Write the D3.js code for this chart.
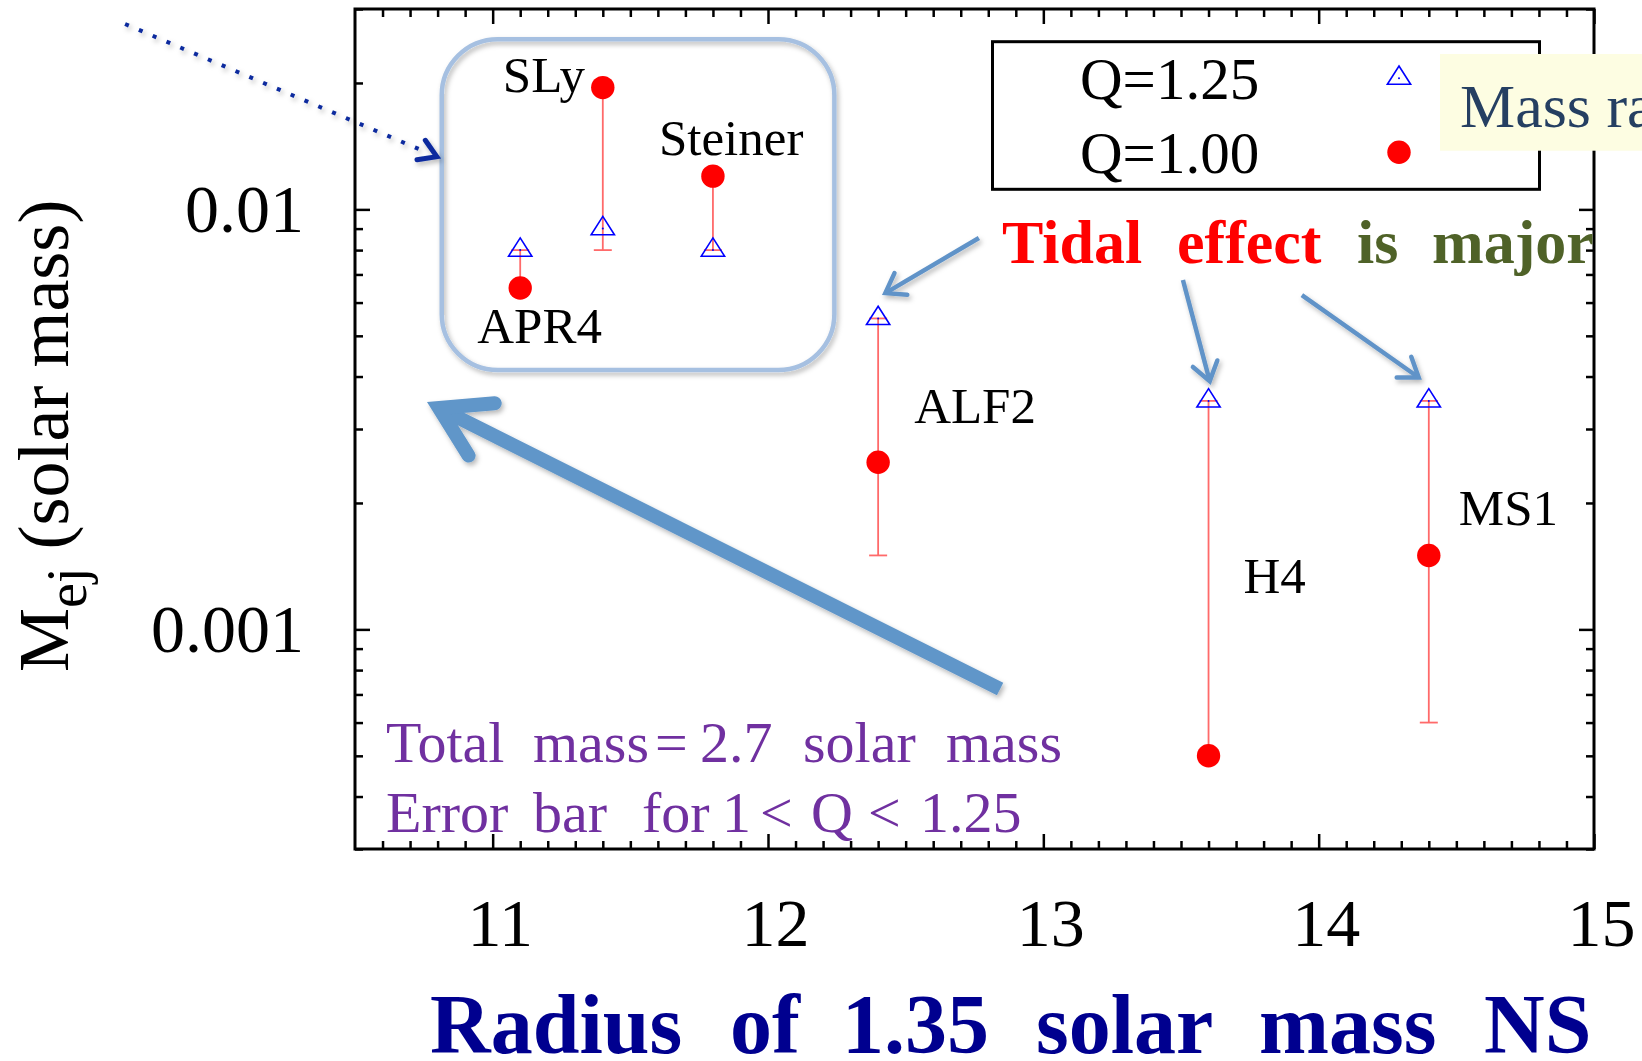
<!DOCTYPE html>
<html>
<head>
<meta charset="utf-8">
<script src="https://cdn.jsdelivr.net/npm/d3@7"></script>
<style>
  html, body { margin: 0; padding: 0; background: #fff; overflow: hidden; }
  svg { display: block; }
  text { font-family: "Liberation Serif", "Times New Roman", Times, serif; }
</style>
</head>
<body>
<svg id="chart" width="1642" height="1061"></svg>
<script>
// Equations of state and the radius of a 1.35 solar-mass neutron star (km)
const eosNames = ["APR4", "SLy", "Steiner", "ALF2", "H4", "MS1"];
const radius   = [11.1, 11.4, 11.8, 12.4, 13.6, 14.4];

// Ejected mass (solar mass) for mass ratio Q = 1.00 and Q = 1.25
const mejQ100 = [0.0065, 0.0195, 0.0120, 0.0025, 0.0005, 0.0015];
const mejQ125 = [0.0080, 0.0090, 0.0080, 0.0055, 0.0035, 0.0035];

// Spread of ejected mass over 1 < Q < 1.25
const errLow  = [0.0065, 0.0080, 0.0080, 0.0015, 0.0005, 0.0006];
const errHigh = [0.0080, 0.0195, 0.0120, 0.0055, 0.0035, 0.0035];

// Ejected-mass level of each name label's baseline
const labelMej = [0.0048, 0.0190, 0.0135, 0.0031, 0.00122, 0.00177];

// Axis ticks
const xMajorTicks = [11, 12, 13, 14, 15];
const xTickLabels = ["11", "12", "13", "14", "15"];
const yMajorTicks = [0.001, 0.01];
const yTickLabels = ["0.001", "0.01"];

// Call-out arrows and the inset frame, in data units [radius, Mej]
const bigArrow    = { from: [12.843, 7.21e-4], to: [10.7615, 3.478e-3] };
const tidalArrows = [
  { from: [12.766, 0.00855], to: [12.414, 0.00625] },
  { from: [13.507, 0.00679], to: [13.608, 0.00382] },
  { from: [13.939, 0.00625], to: [14.375, 0.00393] }
];
const insetArrow  = { from: [9.665, 0.02763], to: [10.797, 0.01335] };
const insetBox    = { x: [10.815, 12.241], y: [0.02541, 0.004146] };

// ---------------------------------------------------------------------------
const W = 1642, H = 1061;
const plot = { left: 355, right: 1594, top: 9, bottom: 849 };
const labelDx = [-43, -100, -54, 36, 35, 30];

const svg = d3.select("#chart");
const x = d3.scaleLinear().domain([10.5, 15]).range([plot.left, plot.right]);
const y = d3.scaleLog().domain([3e-4, 3e-2]).range([plot.bottom, plot.top]);

const defs = svg.append("defs");
const shadow = defs.append("filter").attr("id", "softShadow")
  .attr("filterUnits", "userSpaceOnUse")
  .attr("x", 0).attr("y", 0).attr("width", W).attr("height", H);
shadow.append("feDropShadow").attr("dx", 2).attr("dy", 3)
  .attr("stdDeviation", 2.5).attr("flood-color", "#000").attr("flood-opacity", 0.28);

const serif = '"Liberation Serif", "Times New Roman", Times, serif';

// ---- axes: ticks on all four sides, pointing inward ----
const xMinor = d3.range(106, 150).filter(v => v % 10 !== 0).map(v => v / 10);
const yMinor = [];
[1e-4, 1e-3, 1e-2].forEach(dec => {
  for (let k = 2; k <= 9; k++) {
    const v = k * dec;
    if (v >= 3e-4 * 0.999 && v <= 3e-2 * 1.001) yMinor.push(v);
  }
});

function tidy(g) {
  g.select(".domain").remove();
  g.selectAll(".tick line").attr("stroke", "#000").attr("stroke-width", 2.5);
  g.attr("font-family", serif).attr("font-size", 68);
  g.selectAll(".tick text").attr("fill", "#000");
}

const axes = svg.append("g");
axes.append("g").attr("transform", `translate(0,${plot.bottom})`)
  .call(d3.axisBottom(x).tickValues(xMajorTicks).tickSize(-15).tickPadding(49)
    .tickFormat((d, i) => xTickLabels[i]))
  .call(tidy)
  .call(g => g.selectAll(".tick text").attr("dx", 7));
axes.append("g").attr("transform", `translate(0,${plot.bottom})`)
  .call(d3.axisBottom(x).tickValues(xMinor).tickSize(-8).tickFormat(""))
  .call(tidy);
axes.append("g").attr("transform", `translate(0,${plot.top})`)
  .call(d3.axisTop(x).tickValues(xMajorTicks).tickSize(-15).tickFormat(""))
  .call(tidy);
axes.append("g").attr("transform", `translate(0,${plot.top})`)
  .call(d3.axisTop(x).tickValues(xMinor).tickSize(-8).tickFormat(""))
  .call(tidy);

axes.append("g").attr("transform", `translate(${plot.left},0)`)
  .call(d3.axisLeft(y).tickValues(yMajorTicks).tickSize(-15).tickPadding(51)
    .tickFormat(d => yTickLabels[yMajorTicks.indexOf(d)]))
  .call(tidy);
axes.append("g").attr("transform", `translate(${plot.left},0)`)
  .call(d3.axisLeft(y).tickValues(yMinor).tickSize(-8).tickFormat(""))
  .call(tidy);
axes.append("g").attr("transform", `translate(${plot.right},0)`)
  .call(d3.axisRight(y).tickValues(yMajorTicks).tickSize(-15).tickFormat(""))
  .call(tidy);
axes.append("g").attr("transform", `translate(${plot.right},0)`)
  .call(d3.axisRight(y).tickValues(yMinor).tickSize(-8).tickFormat(""))
  .call(tidy);

axes.append("rect")
  .attr("x", plot.left).attr("y", plot.top)
  .attr("width", plot.right - plot.left).attr("height", plot.bottom - plot.top)
  .attr("fill", "none").attr("stroke", "#000").attr("stroke-width", 3);

// ---- axis titles ----
const xTitle = svg.append("text")
  .attr("y", 1053).attr("font-size", 84).attr("font-weight", "bold").attr("fill", "#00008f");
[["Radius", 430], ["of", 730], ["1.35", 842], ["solar", 1036], ["mass", 1259], ["NS", 1484]]
  .forEach(([w, p]) => xTitle.append("tspan").attr("x", p).text(w));

const yTitle = svg.append("text")
  .attr("transform", "translate(68,672) rotate(-90)")
  .attr("font-size", 72).attr("fill", "#000");
yTitle.append("tspan").text("M");
yTitle.append("tspan").attr("font-size", 56).attr("dy", 18).text("ej");
yTitle.append("tspan").attr("dy", -18).style("white-space", "pre").text(" (solar mass)");

// ---- inset frame around the soft equations of state ----
svg.append("rect")
  .attr("x", x(insetBox.x[0])).attr("y", y(insetBox.y[0]))
  .attr("width", x(insetBox.x[1]) - x(insetBox.x[0]))
  .attr("height", y(insetBox.y[1]) - y(insetBox.y[0]))
  .attr("rx", 56).attr("ry", 56)
  .attr("fill", "none").attr("stroke", "#a6c0e1").attr("stroke-width", 4.5)
  .attr("filter", "url(#softShadow)");

// ---- arrow helper (pixel space) ----
function drawArrow(g, p0, p1, o) {
  const ang = Math.atan2(p1[1] - p0[1], p1[0] - p0[0]);
  const back = ang + Math.PI;
  const off = (o.width / 2) / Math.sin(o.half);
  const v = [p1[0] + Math.cos(back) * off, p1[1] + Math.sin(back) * off];
  const a1 = [v[0] + Math.cos(back + o.half) * o.len, v[1] + Math.sin(back + o.half) * o.len];
  const a2 = [v[0] + Math.cos(back - o.half) * o.len, v[1] + Math.sin(back - o.half) * o.len];
  const grp = g.append("g").attr("filter", "url(#softShadow)");
  grp.append("line")
    .attr("x1", p0[0]).attr("y1", p0[1]).attr("x2", v[0]).attr("y2", v[1])
    .attr("stroke", o.color).attr("stroke-width", o.width).attr("stroke-linecap", "butt");
  grp.append("path")
    .attr("d", `M${a1[0]},${a1[1]}L${v[0]},${v[1]}L${a2[0]},${a2[1]}`)
    .attr("fill", "none").attr("stroke", o.color).attr("stroke-width", o.width)
    .attr("stroke-linejoin", "miter").attr("stroke-linecap", "round");
}
const px = p => [x(p[0]), y(p[1])];

const notes = svg.append("g");
drawArrow(notes, px(bigArrow.from), px(bigArrow.to),
  { color: "#6096c9", width: 14, half: 31.5 * Math.PI / 180, len: 56 });
tidalArrows.forEach(a => drawArrow(notes, px(a.from), px(a.to),
  { color: "#6193c8", width: 4.5, half: 35 * Math.PI / 180, len: 22 }));

// dotted pointer into the inset
{
  const p0 = px(insetArrow.from), p1 = px(insetArrow.to);
  const ang = Math.atan2(p1[1] - p0[1], p1[0] - p0[0]);
  const back = ang + Math.PI, half = 32 * Math.PI / 180, len = 20;
  const grp = notes.append("g").attr("filter", "url(#softShadow)");
  grp.append("line")
    .attr("x1", p0[0]).attr("y1", p0[1])
    .attr("x2", p1[0] + Math.cos(back) * 10).attr("y2", p1[1] + Math.sin(back) * 10)
    .attr("stroke", "#0a2a9e").attr("stroke-width", 4).attr("stroke-dasharray", "4 11");
  grp.append("path")
    .attr("d", `M${p1[0] + Math.cos(back + half) * len},${p1[1] + Math.sin(back + half) * len}` +
               `L${p1[0]},${p1[1]}` +
               `L${p1[0] + Math.cos(back - half) * len},${p1[1] + Math.sin(back - half) * len}`)
    .attr("fill", "none").attr("stroke", "#0a2a9e").attr("stroke-width", 5)
    .attr("stroke-linecap", "round").attr("stroke-linejoin", "miter");
}

// ---- data: error bars, Q=1.25 triangles, Q=1.00 circles ----
const rows = eosNames.map((name, i) => ({
  name, r: radius[i], q100: mejQ100[i], q125: mejQ125[i],
  lo: errLow[i], hi: errHigh[i], lab: labelMej[i], dx: labelDx[i]
}));

const triPath = "M0,-12.2L11.65,6.1L-11.65,6.1Z";
const capW = 9;

const bars = svg.append("g").attr("stroke", "#ff6a6a").attr("stroke-width", 1.8);
bars.selectAll("line.stem").data(rows).join("line").attr("class", "stem")
  .attr("x1", d => x(d.r)).attr("x2", d => x(d.r))
  .attr("y1", d => y(d.lo)).attr("y2", d => y(d.hi));
bars.selectAll("line.capLo").data(rows).join("line").attr("class", "capLo")
  .attr("x1", d => x(d.r) - capW).attr("x2", d => x(d.r) + capW)
  .attr("y1", d => y(d.lo)).attr("y2", d => y(d.lo));
bars.selectAll("line.capHi").data(rows).join("line").attr("class", "capHi")
  .attr("x1", d => x(d.r) - capW).attr("x2", d => x(d.r) + capW)
  .attr("y1", d => y(d.hi)).attr("y2", d => y(d.hi));

const tri = svg.append("g");
tri.selectAll("path").data(rows).join("path")
  .attr("d", triPath)
  .attr("transform", d => `translate(${x(d.r)},${y(d.q125)})`)
  .attr("fill", "none").attr("stroke", "#0000ff").attr("stroke-width", 1.6);
tri.selectAll("circle").data(rows).join("circle")
  .attr("cx", d => x(d.r)).attr("cy", d => y(d.q125)).attr("r", 1).attr("fill", "#0000ff");

svg.append("g").selectAll("circle").data(rows).join("circle")
  .attr("cx", d => x(d.r)).attr("cy", d => y(d.q100)).attr("r", 11.7)
  .attr("fill", "#ff0000");

svg.append("g").selectAll("text").data(rows).join("text")
  .attr("x", d => x(d.r) + d.dx).attr("y", d => y(d.lab))
  .attr("font-size", 51).attr("fill", "#000")
  .text(d => d.name);

// ---- legend ----
const lg = svg.append("g");
lg.append("rect").attr("x", 992.5).attr("y", 41.7).attr("width", 547).attr("height", 147.6)
  .attr("fill", "#fff").attr("stroke", "#000").attr("stroke-width", 3);
lg.append("text").attr("x", 1080).attr("y", 99).attr("font-size", 59).text("Q=1.25");
lg.append("text").attr("x", 1080).attr("y", 172.5).attr("font-size", 59).text("Q=1.00");
lg.append("path").attr("d", triPath).attr("transform", "translate(1399,78.2)")
  .attr("fill", "none").attr("stroke", "#0000ff").attr("stroke-width", 1.6);
lg.append("circle").attr("cx", 1399).attr("cy", 78.2).attr("r", 1).attr("fill", "#0000ff");
lg.append("circle").attr("cx", 1399).attr("cy", 152.3).attr("r", 11.7).attr("fill", "#ff0000");

// mass-ratio note box
svg.append("rect").attr("x", 1440).attr("y", 54).attr("width", 220).attr("height", 96.7)
  .attr("fill", "#fdfde2");
svg.append("text").attr("x", 1460).attr("y", 127).attr("font-size", 62).attr("fill", "#253f62")
  .text("Mass ratio");

// ---- "Tidal effect is major" ----
const tidal = svg.append("text").attr("y", 263).attr("font-size", 62).attr("font-weight", "bold");
[["Tidal", 1002, "#ff0000"], ["effect", 1177, "#ff0000"], ["is", 1357, "#4f6228"], ["major", 1432, "#4f6228"]]
  .forEach(([w, p, c]) => tidal.append("tspan").attr("x", p).attr("fill", c).text(w));

// ---- run set-up notes ----
const note1 = svg.append("text").attr("y", 762).attr("font-size", 58).attr("fill", "#7030a0");
[["Total", 386], ["mass", 533], ["=", 655], ["2.7", 700], ["solar", 803], ["mass", 946]]
  .forEach(([w, p]) => note1.append("tspan").attr("x", p).text(w));
const note2 = svg.append("text").attr("y", 832).attr("font-size", 58).attr("fill", "#7030a0");
[["Error", 386], ["bar", 533], ["for", 642], ["1", 722], ["<", 760], ["Q", 811], ["<", 868], ["1.25", 920]]
  .forEach(([w, p]) => note2.append("tspan").attr("x", p).text(w));
</script>
</body>
</html>
